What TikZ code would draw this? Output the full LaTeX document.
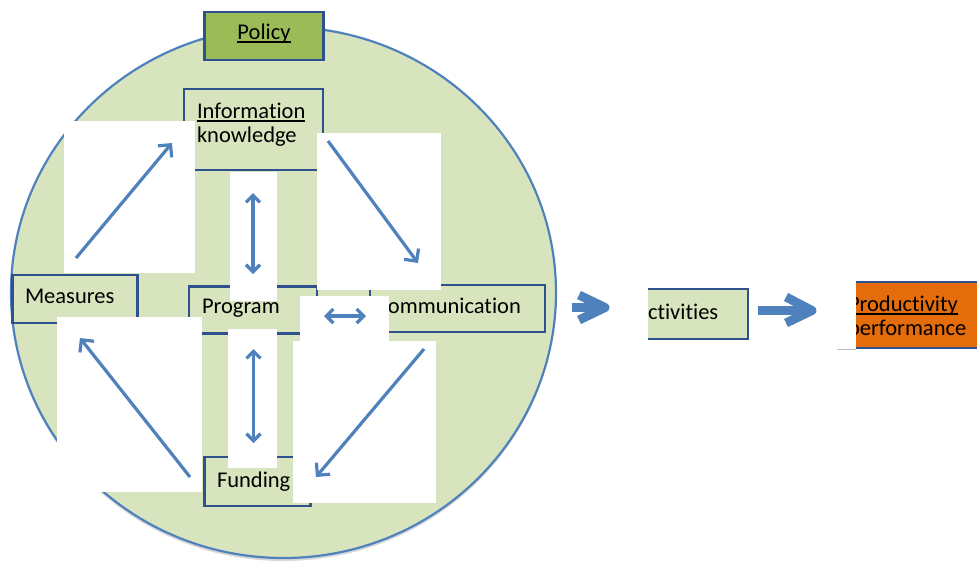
\documentclass[tikz,border=0pt]{standalone}
\usepackage{fontspec}
\setmainfont{Carlito}[Ligatures=NoCommon]
\usetikzlibrary{arrows.meta,shapes.geometric}
\definecolor{lgreen}{HTML}{D7E4BD}
\definecolor{olive}{HTML}{9BBB59}
\definecolor{cblue}{HTML}{4F81BD}
\definecolor{bblue}{HTML}{2F528F}
\definecolor{orng}{HTML}{E46C0A}
\newcommand\myul[1]{\setbox0\hbox{#1}\rlap{\rule[-3.6pt]{\wd0}{1.4pt}}\box0}
\tikzset{
  boxstyle/.style={draw=bblue, line width=2.4pt, fill=lgreen, inner sep=0pt, outer sep=0pt},
  whitebox/.style={fill=white, draw=none, inner sep=0pt, outer sep=0pt},
  lbl/.style={anchor=base west, inner sep=0pt, outer sep=0pt, font=\fontsize{22.5}{26}\selectfont},
  arr/.style={draw=cblue, line width=3.2pt, -{Straight Barb[length=9pt,width=18pt,line width=3.2pt]}},
  darr/.style={draw=cblue, line width=3.2pt, {Straight Barb[length=7pt,width=14pt,line width=3.2pt]}-{Straight Barb[length=7pt,width=14pt,line width=3.2pt]}},
  bigarr/.style={draw=cblue, line width=9pt, line join=round},
}
\begin{document}
\begin{tikzpicture}[x=1pt,y=-1pt]
\useasboundingbox (0,0) rectangle (977,563);
% circle with faint shadow
\fill[black!30, opacity=0.5] (283.5,295.5) ellipse [x radius=272.5, y radius=265.5];
\node[draw=cblue, line width=2.2pt, fill=lgreen, ellipse, minimum width=545pt, minimum height=531pt, inner sep=0pt] (circ) at (283.5,292.5) {};
% Policy
\node[boxstyle, fill=olive, minimum width=119pt, minimum height=48pt] (policy) at (264,36) {};
\node[lbl, anchor=base] (tpol) at (264,39) {\myul{Policy}};
% boxes
\node[boxstyle, minimum width=139pt, minimum height=81pt] (info) at (253.5,129.5) {};
\node[lbl] (tinfo1) at (197,118) {\myul{Information}};
\node[lbl] (tinfo2) at (197,142) {knowledge};
\node[boxstyle, minimum width=125pt, minimum height=48pt] (meas) at (75,299) {};
\node[lbl] (tmeas) at (25,303) {Measures};
\node[boxstyle, minimum width=128pt, minimum height=47pt] (prog) at (253,310) {};
\node[lbl] (tprog) at (202,313) {Program};
\node[boxstyle, minimum width=175pt, minimum height=47pt] (comm) at (457.5,308.5) {};
\node[lbl] (tcomm) at (376,313) {Communication};
\node[boxstyle, minimum width=106pt, minimum height=49pt] (fund) at (257.5,481.5) {};
\node[lbl] (tfund) at (217,487) {Funding};
% white panels with arrows
\node[whitebox, minimum width=131pt, minimum height=152pt] (wa) at (129.5,197) {};
\coordinate (a1) at (76,258); \coordinate (a2) at (172,143);
\draw[arr] (a1) -- (a2);
\node[whitebox, minimum width=47pt, minimum height=129pt] (wb) at (253.5,236.5) {};
\coordinate (b1) at (253,193); \coordinate (b2) at (253,274);
\draw[darr] (b1) -- (b2);
\node[whitebox, minimum width=124pt, minimum height=157pt] (wc) at (379,211.5) {};
\coordinate (c1) at (328,141); \coordinate (c2) at (418,263);
\draw[arr] (c1) -- (c2);
\node[whitebox, minimum width=89pt, minimum height=45pt] (wd) at (344.5,318.5) {};
\coordinate (d1) at (324,316); \coordinate (d2) at (366,316);
\draw[darr] (d1) -- (d2);
\node[whitebox, minimum width=145pt, minimum height=175pt] (we) at (129.5,404.5) {};
\coordinate (e1) at (190,477); \coordinate (e2) at (80,338);
\draw[arr] (e1) -- (e2);
\node[whitebox, minimum width=49pt, minimum height=139pt] (wf) at (252.5,398.5) {};
\coordinate (f1) at (253.5,349); \coordinate (f2) at (253.5,443);
\draw[darr] (f1) -- (f2);
\node[whitebox, minimum width=143pt, minimum height=162pt] (wg) at (364.5,422) {};
\coordinate (g1) at (424,349); \coordinate (g2) at (316,477);
\draw[arr] (g1) -- (g2);
% block arrow 1
\coordinate (ba1) at (572,307.5); \coordinate (ba2) at (604,307.5);
\coordinate (bh1) at (579,295); \coordinate (bh2) at (605,307.5); \coordinate (bh3) at (579,320);
\draw[bigarr] (ba1) -- (ba2);
\draw[bigarr] (bh1) -- (bh2) -- (bh3);
% Activities (clipped on the left)
\begin{scope}
\clip (648,270) rectangle (770,350);
\node[boxstyle, minimum width=118pt, minimum height=50pt] (act) at (689,314) {};
\node[lbl] (tact) at (635,319) {Activities};
\end{scope}
% block arrow 2
\coordinate (bb1) at (758,310.5); \coordinate (bb2) at (811,310.5);
\coordinate (bk1) at (786,297); \coordinate (bk2) at (812,310.5); \coordinate (bk3) at (786,323);
\draw[bigarr] (bb1) -- (bb2);
\draw[bigarr] (bk1) -- (bk2) -- (bk3);
% Productivity (clipped on the left and right)
\draw[black!25, line width=1pt] (837,349) -- (856,349);
\begin{scope}
\clip (856,270) rectangle (977,360);
\node[boxstyle, fill=orng, minimum width=160pt, minimum height=66pt] (prod) at (920,315) {};
\node[lbl] (tprod1) at (848,311) {\myul{Productivity}};
\node[lbl] (tprod2) at (848,335) {performance};
\end{scope}
\end{tikzpicture}
\end{document}
